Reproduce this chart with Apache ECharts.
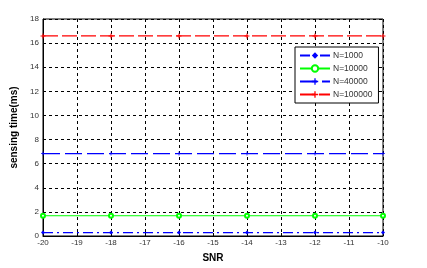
<!DOCTYPE html>
<html><head><meta charset="utf-8">
<script src="https://cdn.jsdelivr.net/npm/echarts@6/dist/echarts.min.js"></script>
<style>html,body{margin:0;padding:0;background:#fff}#c{width:427px;height:268px}</style>
</head><body><div id="c"></div>
<script>
const snr = [-20, -18, -16, -14, -12, -10];
const n1000 = [0.28, 0.28, 0.28, 0.28, 0.28, 0.28];
const n10000 = [1.68, 1.68, 1.68, 1.68, 1.68, 1.68];
const n40000 = [6.84, 6.84, 6.84, 6.84, 6.84, 6.84];
const n100000 = [16.6, 16.6, 16.6, 16.6, 16.6, 16.6];
const names = ['N=1000', 'N=10000', 'N=40000', 'N=100000'];

const plus = 'path://M4,0L6,0L6,4L10,4L10,6L6,6L6,10L4,10L4,6L0,6L0,4L4,4Z';
function pts(v){ return snr.map((x,i)=>[x,v[i]]); }

const chart = echarts.init(document.getElementById('c'));
const axisLbl = {color:'#333', fontSize:8, fontFamily:'Liberation Sans, Arial'};
chart.setOption({
  animation:false,
  grid:{left:43, right:44, top:19, bottom:28, show:true, borderColor:'#000', borderWidth:1},
  legend:{
    orient:'vertical', left:295, top:47, width:77,
    data:names,
    backgroundColor:'#fff', borderColor:'#000', borderWidth:1,
    padding:[4,6,4,4], itemGap:4, itemWidth:30, itemHeight:8,
    textStyle:{fontSize:8.5, color:'#333', fontFamily:'Liberation Sans, Arial', padding:[0,0,0,-2]}
  },
  xAxis:{type:'value', min:-20, max:-10, interval:1,
    name:'SNR', nameLocation:'middle', nameGap:17,
    nameTextStyle:{fontSize:10, fontWeight:'bold', color:'#000', fontFamily:'Liberation Sans, Arial'},
    axisLine:{show:true, lineStyle:{color:'#000'}},
    axisTick:{show:true, inside:true, length:3, lineStyle:{color:'#000'}},
    axisLabel:Object.assign({margin:3}, axisLbl),
    splitLine:{show:true, lineStyle:{color:'#000', type:[3,3], width:1}}
  },
  yAxis:{type:'value', min:0, max:18, interval:2,
    name:'sensing time(ms)', nameLocation:'middle', nameGap:18,
    nameTextStyle:{fontSize:10, fontWeight:'bold', color:'#000', fontFamily:'Liberation Sans, Arial'},
    axisLine:{show:true, lineStyle:{color:'#000'}},
    axisTick:{show:true, inside:true, length:3, lineStyle:{color:'#000'}},
    axisLabel:Object.assign({margin:4}, axisLbl),
    splitLine:{show:true, lineStyle:{color:'#000', type:[3,3], width:1}}
  },
  series:[
    {name:names[0], type:'line', data:pts(n1000), symbol:'diamond', symbolSize:4,
     lineStyle:{color:'#0000ff', width:1.3, type:[10,4,2,4]}, itemStyle:{color:'#0000ff'}},
    {name:names[1], type:'line', data:pts(n10000), symbol:'emptyCircle', symbolSize:4,
     lineStyle:{color:'#00ff00', width:1, type:'solid'}, itemStyle:{color:'#00ff00', borderWidth:1}},
    {name:names[2], type:'line', data:pts(n40000), symbol:plus, symbolSize:4,
     lineStyle:{color:'#0000ff', width:1.3, type:[17,5]}, itemStyle:{color:'#0000ff'}},
    {name:names[3], type:'line', data:pts(n100000), symbol:plus, symbolSize:5,
     lineStyle:{color:'#ff0000', width:1.3, type:[15,4]}, itemStyle:{color:'#ff0000'}}
  ]
});
</script></body></html>
